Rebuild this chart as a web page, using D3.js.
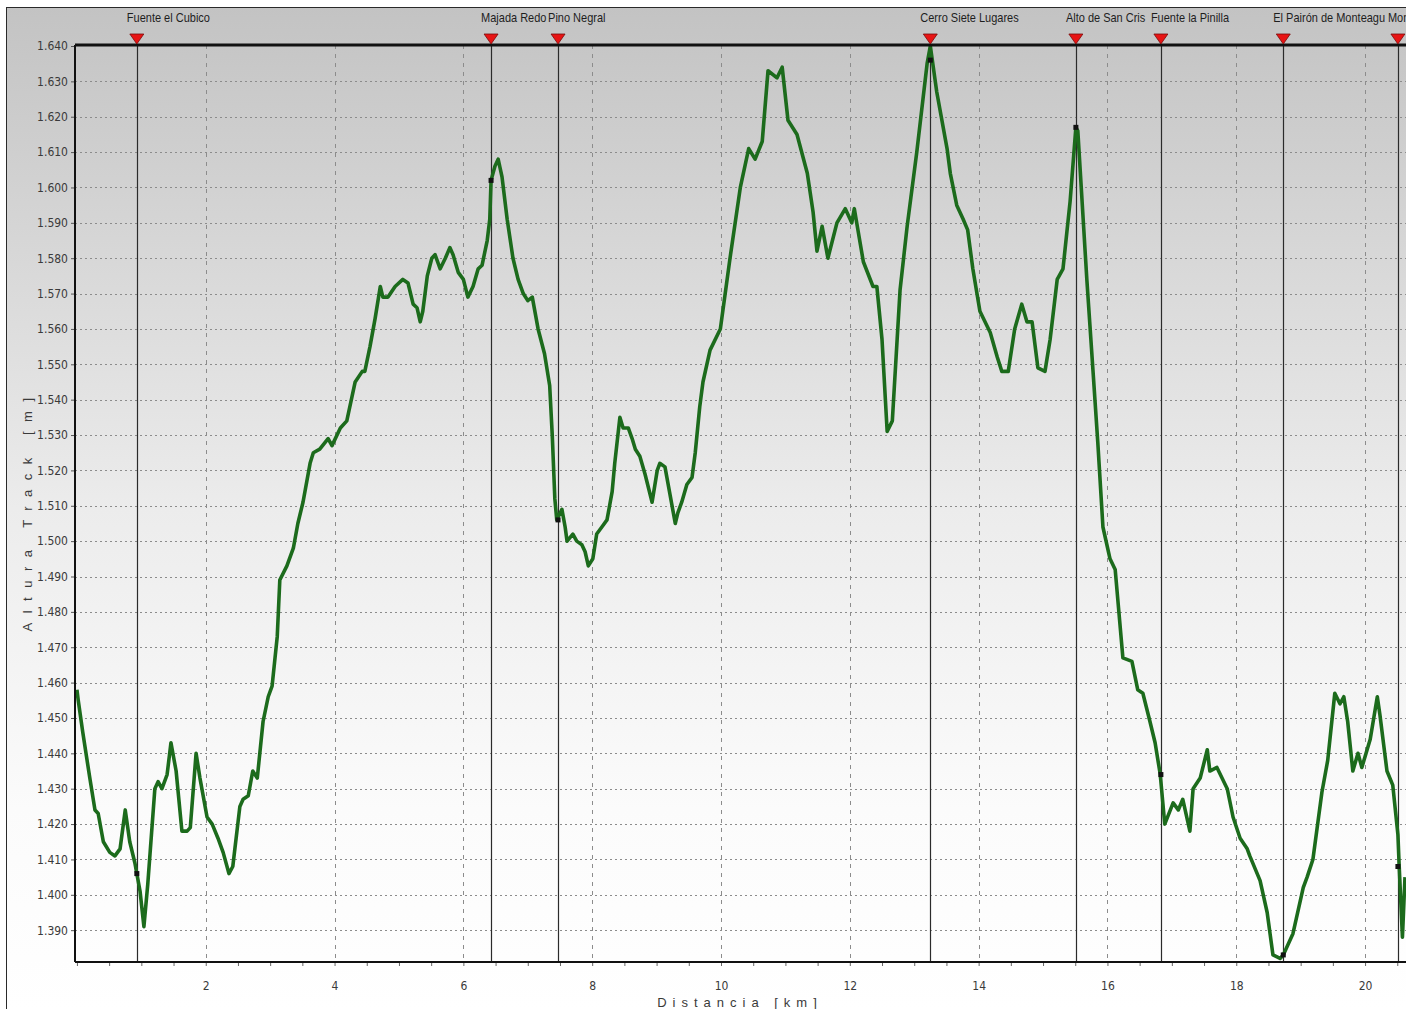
<!DOCTYPE html>
<html lang="es">
<head>
<meta charset="UTF-8">
<title>Perfil Altura Track</title>
<script src="https://cdn.jsdelivr.net/npm/d3@7"></script>
<style>
    body { margin: 0; background: #fff; }
    svg { display: block; }
    .tick text { font-family: 'DejaVu Sans Condensed', 'Liberation Sans', Arial, sans-serif; font-size: 12px; fill: #3a3a3a; }
    .wp-label { font-family: 'Liberation Sans', Arial, sans-serif; font-size: 12.5px; fill: #1e1e1e; }
    .axis-title { font-family: 'Liberation Sans', Arial, sans-serif; font-size: 13px; fill: #3a3a3a; }
</style>
</head>
<body>
<svg id="chart" width="1406" height="1009"></svg>
<script>
// track profile
const distKm = [0, 0.02, 0.09, 0.20, 0.28, 0.33, 0.41, 0.51, 0.59, 0.67, 0.75, 0.82, 0.90, 0.93, 0.98,
    1.04, 1.10, 1.21, 1.26, 1.32, 1.40, 1.46, 1.54, 1.63, 1.71, 1.76, 1.85, 1.91, 2.02, 2.10, 2.19,
    2.27, 2.36, 2.42, 2.53, 2.58, 2.66, 2.73, 2.80, 2.89, 2.97, 3.03, 3.11, 3.15, 3.26, 3.36, 3.43,
    3.51, 3.62, 3.67, 3.77, 3.90, 3.96, 4.09, 4.19, 4.32, 4.43, 4.47, 4.55, 4.63, 4.71, 4.75, 4.83,
    4.94, 5.06, 5.14, 5.22, 5.28, 5.33, 5.37, 5.44, 5.51, 5.56, 5.64, 5.72, 5.79, 5.84, 5.92, 6.00,
    6.07, 6.15, 6.23, 6.29, 6.37, 6.41, 6.43, 6.49, 6.54, 6.60, 6.68, 6.77, 6.85, 6.93, 7.00, 7.07,
    7.16, 7.26, 7.34, 7.38, 7.42, 7.45, 7.53, 7.58, 7.61, 7.70, 7.76, 7.84, 7.89, 7.94, 8.01, 8.07,
    8.15, 8.23, 8.31, 8.35, 8.43, 8.48, 8.56, 8.62, 8.67, 8.74, 8.82, 8.93, 9.01, 9.05, 9.13, 9.21,
    9.29, 9.33, 9.39, 9.47, 9.55, 9.60, 9.67, 9.72, 9.83, 9.99, 10.14, 10.30, 10.43, 10.53, 10.64,
    10.73, 10.87, 10.95, 11.04, 11.18, 11.34, 11.43, 11.49, 11.57, 11.66, 11.80, 11.93, 12.03, 12.07,
    12.21, 12.36, 12.42, 12.50, 12.58, 12.66, 12.78, 12.89, 13.04, 13.20, 13.25, 13.35, 13.51, 13.56,
    13.66, 13.76, 13.83, 13.91, 14.02, 14.18, 14.29, 14.36, 14.46, 14.56, 14.67, 14.75, 14.83, 14.92,
    15.03, 15.11, 15.22, 15.31, 15.42, 15.51, 15.54, 15.68, 15.78, 15.85, 15.93, 16.04, 16.12, 16.24,
    16.38, 16.47, 16.55, 16.66, 16.74, 16.82, 16.89, 17.02, 17.10, 17.17, 17.28, 17.33, 17.44, 17.55,
    17.59, 17.70, 17.86, 17.95, 18.06, 18.17, 18.21, 18.37, 18.48, 18.57, 18.68, 18.73, 18.88, 19.04,
    19.10, 19.19, 19.33, 19.42, 19.53, 19.61, 19.67, 19.73, 19.81, 19.89, 19.95, 20.08, 20.19, 20.23,
    20.34, 20.43, 20.51, 20.53, 20.58, 20.62];
const altM = [1458, 1455, 1446, 1433, 1424, 1423, 1415, 1412, 1411, 1413, 1424, 1415, 1409, 1406, 1401,
    1391, 1403, 1430, 1432, 1430, 1434, 1443, 1435, 1418, 1418, 1419, 1440, 1433, 1422, 1420, 1416,
    1412, 1406, 1408, 1425, 1427, 1428, 1435, 1433, 1449, 1456, 1459, 1473, 1489, 1493, 1498, 1505,
    1511, 1522, 1525, 1526, 1529, 1527, 1532, 1534, 1545, 1548, 1548, 1555, 1563, 1572, 1569, 1569,
    1572, 1574, 1573, 1567, 1566, 1562, 1565, 1575, 1580, 1581, 1577, 1580, 1583, 1581, 1576, 1574,
    1569, 1572, 1577, 1578, 1585, 1591, 1602, 1606, 1608, 1603, 1591, 1580, 1574, 1570, 1568, 1569,
    1560, 1553, 1544, 1530, 1512, 1506, 1509, 1504, 1500, 1502, 1500, 1499, 1497, 1493, 1495, 1502,
    1504, 1506, 1514, 1522, 1535, 1532, 1532, 1529, 1526, 1524, 1519, 1511, 1520, 1522, 1521, 1513,
    1505, 1508, 1511, 1516, 1518, 1525, 1538, 1545, 1554, 1560, 1580, 1600, 1611, 1608, 1613,
    1633, 1631, 1634, 1619, 1615, 1604, 1593, 1582, 1589, 1580, 1590, 1594, 1590, 1594,
    1579, 1572, 1572, 1557, 1531, 1534, 1571, 1589, 1610, 1635, 1640, 1627, 1611, 1604,
    1595, 1591, 1588, 1577, 1565, 1559, 1552, 1548, 1548, 1560, 1567, 1562, 1562, 1549,
    1548, 1557, 1574, 1577, 1596, 1617, 1616, 1574, 1547, 1528, 1504, 1495, 1492, 1467,
    1466, 1458, 1457, 1449, 1443, 1434, 1420, 1426, 1424, 1427, 1418, 1430, 1433, 1441,
    1435, 1436, 1430, 1422, 1416, 1413, 1411, 1404, 1395, 1383, 1382, 1383, 1389, 1402,
    1405, 1410, 1429, 1438, 1457, 1454, 1456, 1449, 1435, 1440, 1436, 1444, 1456, 1451,
    1435, 1431, 1417, 1408, 1388, 1405];

// waypoints
const wpNames = ["Fuente el Cubico", "Majada Redo", "Pino Negral", "Cerro Siete Lugares",
    "Alto de San Cris", "Fuente la Pinilla", "El Pairón de Monteagu", "Mon"];
const wpKm = [0.93, 6.43, 7.47, 13.25, 15.51, 16.83, 18.73, 20.51];
const wpAlt = [1406, 1602, 1506, 1636, 1617, 1434, 1383, 1408];

const yTicks = d3.range(1390, 1640, 10);
const xTicks = [2, 4, 6, 8, 10, 12, 14, 16, 18, 20];
const xMinor = d3.range(0, 20.75, 0.5);

const W = 1406, H = 1009;
const plot = { left: 75, top: 45, right: 1406, bottom: 962 };

const svg = d3.select("#chart");

const x = d3.scaleLinear().domain([-0.03, 20.62]).range([plot.left, 1405]);
const y = d3.scaleLinear().domain([1381, 1640]).range([plot.bottom, plot.top + 1]);

const es = d3.formatLocale({ decimal: ",", thousands: ".", grouping: [3], currency: ["", "€"] });
const fmt = es.format(",");

// background
const defs = svg.append("defs");
const grad = defs.append("linearGradient").attr("id", "bg")
    .attr("x1", 0).attr("y1", 0).attr("x2", 0).attr("y2", 1);
grad.append("stop").attr("offset", 0).attr("stop-color", "#c3c3c3");
grad.append("stop").attr("offset", 0.5).attr("stop-color", "#ececec");
grad.append("stop").attr("offset", 0.8).attr("stop-color", "#fbfbfb");
grad.append("stop").attr("offset", 1).attr("stop-color", "#ffffff");

defs.append("clipPath").attr("id", "plotclip")
    .append("rect").attr("x", plot.left).attr("y", plot.top - 2)
    .attr("width", plot.right - plot.left).attr("height", plot.bottom - plot.top + 4);

svg.append("rect").attr("x", 0).attr("y", 0).attr("width", W).attr("height", H).attr("fill", "#fff");
svg.append("rect").attr("x", 6).attr("y", 7).attr("width", W - 6).attr("height", H - 7).attr("fill", "url(#bg)");
svg.append("line").attr("x1", 6.5).attr("x2", 6.5).attr("y1", 7).attr("y2", H).attr("stroke", "#2a2a2a");
svg.append("line").attr("x1", 6).attr("x2", W).attr("y1", 7.5).attr("y2", 7.5).attr("stroke", "#2a2a2a");

// grid
svg.append("g").selectAll("line").data(yTicks).join("line")
    .attr("x1", plot.left).attr("x2", plot.right)
    .attr("y1", d => Math.round(y(d)) + 0.5).attr("y2", d => Math.round(y(d)) + 0.5)
    .attr("stroke", "#8c8c8c").attr("stroke-dasharray", "2,3");

svg.append("g").selectAll("line").data(xTicks).join("line")
    .attr("x1", d => Math.round(x(d)) + 0.5).attr("x2", d => Math.round(x(d)) + 0.5)
    .attr("y1", plot.top).attr("y2", plot.bottom)
    .attr("stroke", "#8c8c8c").attr("stroke-dasharray", "4,5");

// axes
const yAxis = svg.append("g").attr("transform", `translate(${plot.left},0)`)
    .call(d3.axisLeft(y).tickValues(d3.range(1390, 1641, 10)).tickSize(4).tickPadding(3).tickFormat(fmt));
yAxis.select(".domain").remove();
yAxis.selectAll(".tick line").attr("stroke", "#555");

const xMinorAxis = svg.append("g").attr("transform", `translate(0,${plot.bottom})`)
    .call(d3.axisBottom(x).tickValues(xMinor).tickSize(4).tickFormat(""));
xMinorAxis.select(".domain").remove();
xMinorAxis.selectAll(".tick line").attr("stroke", "#666");

const xAxis = svg.append("g").attr("transform", `translate(0,${plot.bottom})`)
    .call(d3.axisBottom(x).tickValues(xTicks).tickSize(0).tickPadding(19));
xAxis.select(".domain").remove();

// waypoint lines
const wp = wpNames.map((n, i) => ({ name: n, km: wpKm[i], alt: wpAlt[i] }));
svg.append("g").selectAll("line").data(wp).join("line")
    .attr("x1", d => Math.round(x(d.km)) + 0.5).attr("x2", d => Math.round(x(d.km)) + 0.5)
    .attr("y1", plot.top).attr("y2", plot.bottom)
    .attr("stroke", "#2b2b2b").attr("stroke-width", 1.2);

// profile line
const line = d3.line().x((d, i) => x(distKm[i])).y(d => y(d));
svg.append("path").datum(altM)
    .attr("clip-path", "url(#plotclip)")
    .attr("d", line)
    .attr("fill", "none")
    .attr("stroke", "#1c6b1c")
    .attr("stroke-width", 3.6)
    .attr("stroke-linejoin", "round");

svg.append("g").selectAll("rect").data(wp).join("rect")
    .attr("x", d => x(d.km) - 2.5).attr("y", d => y(d.alt) - 2.5)
    .attr("width", 5).attr("height", 5).attr("fill", "#111");

// frame
svg.append("line").attr("x1", plot.left).attr("x2", plot.right)
    .attr("y1", plot.top).attr("y2", plot.top).attr("stroke", "#111").attr("stroke-width", 3);
svg.append("line").attr("x1", plot.left).attr("x2", plot.right)
    .attr("y1", plot.bottom).attr("y2", plot.bottom).attr("stroke", "#111").attr("stroke-width", 2);
svg.append("line").attr("x1", plot.left).attr("x2", plot.left)
    .attr("y1", plot.top).attr("y2", plot.bottom).attr("stroke", "#111").attr("stroke-width", 2);

// markers and labels
svg.append("g").selectAll("path").data(wp).join("path")
    .attr("d", d => {
        const cx = x(d.km);
        return `M${cx - 7},${plot.top - 11} L${cx + 7},${plot.top - 11} L${cx},${plot.top - 1} Z`;
    })
    .attr("fill", "#e81414").attr("stroke", "#7a0a0a").attr("stroke-width", 0.8);

// narrow labels, like the original condensed font
svg.append("g").selectAll("text").data(wp).join("text")
    .attr("class", "wp-label")
    .attr("transform", d => `translate(${x(d.km) - 10},22) scale(0.88,1)`)
    .text(d => d.name);

// axis titles
svg.append("text").attr("class", "axis-title")
    .attr("transform", "translate(32,510) rotate(-90)")
    .attr("text-anchor", "middle")
    .style("letter-spacing", "9.5px")
    .text("Altura Track [m]");

svg.append("text").attr("class", "axis-title")
    .attr("x", 740).attr("y", 1007)
    .attr("text-anchor", "middle")
    .style("letter-spacing", "6px")
    .text("Distancia [km]");
</script>
</body>
</html>
